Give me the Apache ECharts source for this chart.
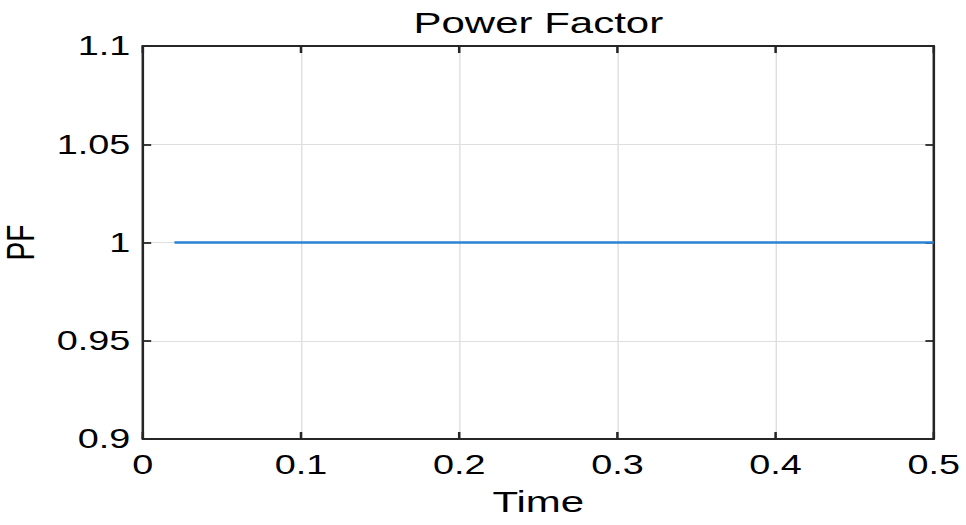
<!DOCTYPE html>
<html>
<head>
<meta charset="utf-8">
<script src="https://cdn.jsdelivr.net/npm/echarts@6/dist/echarts.min.js"></script>
<style>
html, body { margin: 0; padding: 0; background: #ffffff; overflow: hidden; }
#chart { width: 690px; height: 525px; transform: scaleX(1.4); transform-origin: 0 0; }
</style>
</head>
<body>
<div id="chart"></div>
<script>
// Data
const timeValues = [0.02, 0.1, 0.2, 0.3, 0.4, 0.5];
const pfValues = [1, 1, 1, 1, 1, 1];
const xRange = { min: 0, max: 0.5, interval: 0.1 };
const yRange = { min: 0.9, max: 1.1, interval: 0.05 };
const chartTitle = 'Power Factor';
const xName = 'Time';
const yName = 'PF';

const FONT = 'Liberation Sans, Arial, sans-serif';
const INK = '#262626';

function fmt(v) { return String(parseFloat(Number(v).toFixed(2))); }

const chart = echarts.init(document.getElementById('chart'), null, { renderer: 'svg' });

const baseX = {
  type: 'value', min: xRange.min, max: xRange.max, interval: xRange.interval,
  axisLine: { show: true, onZero: false, lineStyle: { color: INK, width: 1.8 } },
  axisTick: { show: true, inside: true, length: 7, lineStyle: { color: INK, width: 1.8 } }
};
const baseY = {
  type: 'value', min: yRange.min, max: yRange.max, interval: yRange.interval,
  axisLine: { show: true, onZero: false, lineStyle: { color: INK, width: 1.8 } },
  axisTick: { show: true, inside: true, length: 6, lineStyle: { color: INK, width: 1.8 } }
};

chart.setOption({
  animation: false,
  backgroundColor: '#ffffff',
  title: {
    text: chartTitle,
    left: 384.5, top: 8, padding: 0, textAlign: 'center',
    textStyle: { fontFamily: FONT, fontSize: 30, fontWeight: 'normal', color: '#000' }
  },
  grid: { left: 102, right: 23, top: 46, bottom: 86, containLabel: false, outerBoundsMode: 'none' },
  xAxis: [
    Object.assign({}, baseX, {
      position: 'bottom',
      name: xName, nameLocation: 'middle', nameGap: 48,
      nameTextStyle: { fontFamily: FONT, fontSize: 30, color: '#000' },
      axisLabel: { show: true, margin: 12, fontFamily: FONT, fontSize: 27, color: '#000', formatter: fmt },
      splitLine: { show: true, lineStyle: { color: '#dedede', width: 1 } }
    }),
    Object.assign({}, baseX, {
      position: 'top',
      axisLabel: { show: false },
      splitLine: { show: false }
    })
  ],
  yAxis: [
    Object.assign({}, baseY, {
      position: 'left',
      name: yName, nameLocation: 'middle', nameGap: 62,
      nameTextStyle: { fontFamily: FONT, fontSize: 28, color: '#000', lineHeight: 30 },
      axisLabel: { show: true, margin: 9, fontFamily: FONT, fontSize: 27, color: '#000', formatter: fmt },
      splitLine: { show: true, lineStyle: { color: '#dedede', width: 1 } }
    }),
    Object.assign({}, baseY, {
      position: 'right',
      axisLabel: { show: false },
      splitLine: { show: false }
    })
  ],
  series: [{
    type: 'line',
    xAxisIndex: 0, yAxisIndex: 0,
    data: timeValues.map((t, i) => [t, pfValues[i]]),
    showSymbol: false,
    lineStyle: { color: '#2a83d3', width: 2.4 },
    z: 5
  }]
});
</script>
</body>
</html>
